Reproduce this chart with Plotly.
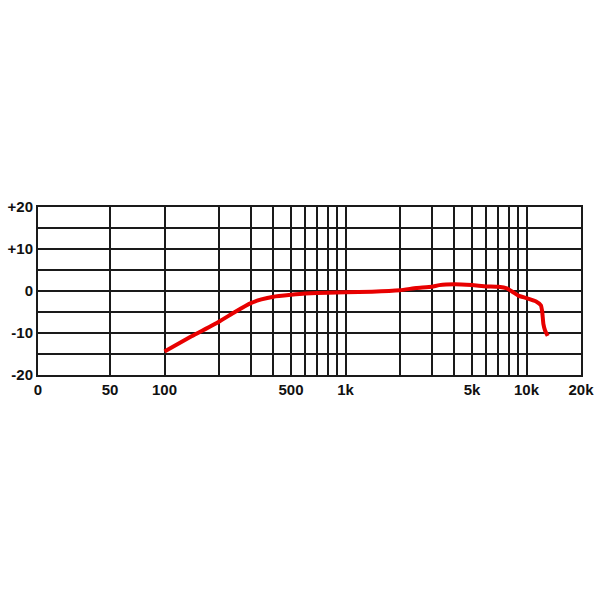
import plotly.graph_objects as go

# Frequency response data (Hz, dB)
freq_hz = [100, 141, 200, 245, 300, 343, 400, 500, 600, 800, 1000, 1400,
           2000, 2460, 3000, 3300, 4000, 5000, 6000, 7000, 7800, 8500,
           9000, 10000, 11300, 12000, 12200, 12400, 12660, 13100]
level_db = [-14.4, -10.8, -7.3, -5.0, -2.9, -2.0, -1.35, -0.9, -0.6, -0.4, -0.3, -0.15,
            0.2, 0.7, 1.0, 1.4, 1.6, 1.4, 1.1, 1.0, 0.6, -0.4,
            -1.1, -1.7, -2.5, -3.4, -4.8, -7.9, -9.4, -10.7]

x_grid = [20, 50, 100, 200, 300, 400, 500, 600, 700, 800, 900, 1000,
          2000, 3000, 4000, 5000, 6000, 7000, 8000, 9000, 10000, 20000]
x_labels = ["0", "50", "100", "", "", "", "500", "", "", "", "", "1k",
            "", "", "", "5k", "", "", "", "", "10k", "20k"]
y_grid = [-20, -15, -10, -5, 0, 5, 10, 15, 20]
y_labels = ["-20", "", "-10", "", "0", "", "+10", "", "+20"]

fig = go.Figure()
fig.add_trace(go.Scatter(
    x=freq_hz, y=level_db, mode="lines",
    line=dict(color="#e80000", width=4, shape="spline", smoothing=0.4),
    hoverinfo="skip", showlegend=False,
))

grid_col = "#1a1a1a"
font = dict(family="Liberation Sans, Arial, sans-serif", size=15, color="#111111")

fig.update_layout(
    width=600, height=600,
    margin=dict(l=38, r=19, t=207, b=225, autoexpand=False),
    paper_bgcolor="white", plot_bgcolor="white",
    font=font,
    xaxis=dict(
        type="log", range=[1.30103, 4.30103],
        tickvals=x_grid, ticktext=[f"<b>{t}</b>" if t else "" for t in x_labels],
        tickangle=0, automargin=False,
        showgrid=True, gridcolor=grid_col, gridwidth=2,
        showline=True, linecolor=grid_col, linewidth=2, mirror=True,
        zeroline=False, ticks="", fixedrange=True,
    ),
    yaxis=dict(
        range=[-20, 20], automargin=False,
        tickvals=y_grid, ticktext=[f"<b>{t}</b>" if t else "" for t in y_labels],
        showgrid=True, gridcolor=grid_col, gridwidth=2,
        showline=True, linecolor=grid_col, linewidth=2, mirror=True,
        zeroline=False, ticks="", fixedrange=True,
    ),
)

# remove the default page margin so the 600x600 figure fills the window exactly
fig.write_html(
    "out.html",
    config={"displayModeBar": False, "staticPlot": True},
    post_script="document.body.style.margin='0';document.body.style.overflow='hidden';",
)
